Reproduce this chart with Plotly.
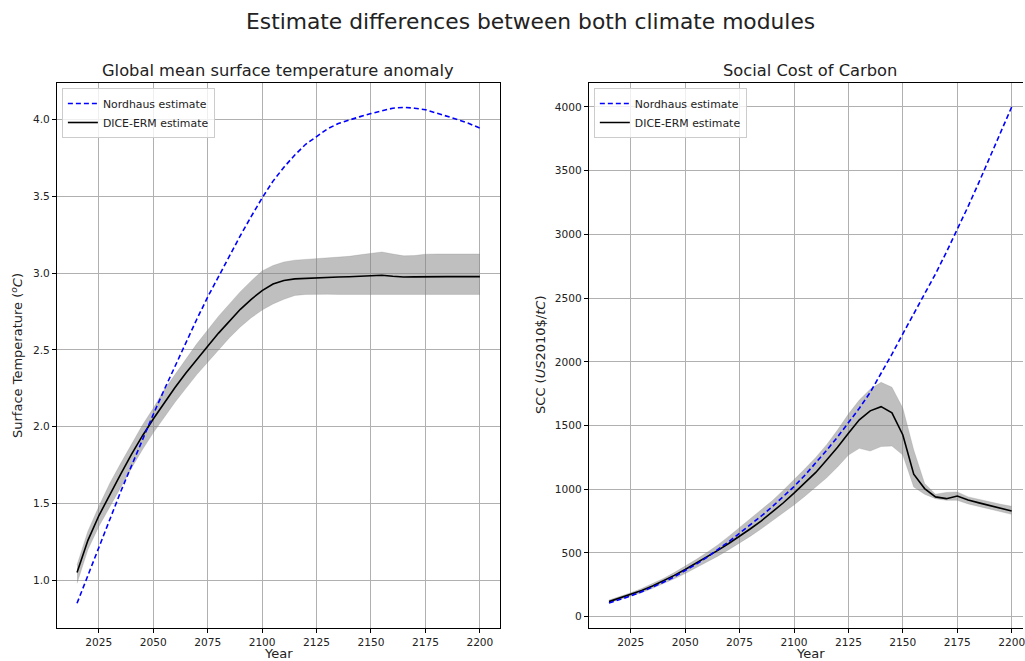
import plotly.graph_objects as go

# Time axis (model periods, 5-year steps)
years = list(range(2015, 2201, 5))

# Global mean surface temperature anomaly (degC)
temp_nordhaus = [0.85, 1.033, 1.215, 1.395, 1.575, 1.745, 1.915, 2.08,
                 2.24, 2.395, 2.55, 2.70, 2.845, 2.98, 3.12, 3.245, 3.37, 3.49,
                 3.60, 3.69, 3.77, 3.84, 3.89, 3.94, 3.975, 4.0, 4.02, 4.04,
                 4.06, 4.075, 4.08, 4.075, 4.065,
                 4.045, 4.025, 4.0, 3.975, 3.945]
temp_erm = [1.05, 1.26, 1.42, 1.56, 1.69, 1.82, 1.94, 2.05,
            2.155, 2.255, 2.35, 2.44, 2.525, 2.61, 2.69, 2.765, 2.83, 2.887,
            2.93, 2.953, 2.963, 2.967, 2.970, 2.972, 2.975, 2.977, 2.980, 2.984,
            2.987, 2.980, 2.975, 2.976, 2.978,
            2.978, 2.978, 2.978, 2.978, 2.978]
temp_erm_upper = [1.10, 1.32, 1.48, 1.63, 1.76, 1.89, 2.01, 2.12,
                  2.24, 2.34, 2.44, 2.54, 2.63, 2.72, 2.80, 2.88, 2.95, 3.015,
                  3.05, 3.073, 3.085, 3.09, 3.094, 3.10, 3.105, 3.11, 3.12, 3.13,
                  3.138, 3.125, 3.113, 3.115, 3.124,
                  3.125, 3.125, 3.125, 3.125, 3.125]
temp_erm_lower = [0.98, 1.20, 1.35, 1.48, 1.61, 1.73, 1.85, 1.96,
                  2.06, 2.16, 2.25, 2.34, 2.42, 2.50, 2.58, 2.65, 2.71, 2.76,
                  2.80, 2.83, 2.855, 2.862, 2.864, 2.863, 2.862, 2.862, 2.862, 2.862,
                  2.862, 2.862, 2.862, 2.862, 2.862,
                  2.862, 2.862, 2.862, 2.862, 2.862]

# Social cost of carbon (US2010$/tC)
scc_nordhaus = [107, 133, 162, 195, 231, 270, 313, 360,
                411, 466, 525, 588, 655, 721, 790, 863, 940, 1021,
                1110, 1205, 1305, 1410, 1520, 1635, 1760, 1905, 2060, 2220,
                2375, 2530, 2690, 2860, 3035,
                3220, 3410, 3605, 3800, 4000]
scc_erm = [118, 146, 173, 205, 240, 281, 324, 370,
           418, 468, 520, 574, 629, 690, 752, 820, 892, 969,
           1050, 1132, 1230, 1330, 1440, 1545, 1615, 1648, 1600, 1426,
           1118, 1005, 940, 926, 947,
           915, 893, 870, 850, 829]
scc_erm_upper = [130, 157, 187, 221, 258, 300, 346, 395,
                 448, 504, 563, 630, 700, 765, 835, 910, 990, 1073,
                 1160, 1250, 1350, 1465, 1590, 1700, 1785, 1839, 1800, 1636,
                 1308, 1045, 961, 975, 979,
                 940, 920, 900, 882, 866]
scc_erm_lower = [108, 133, 158, 188, 222, 258, 297, 338,
                 382, 428, 475, 525, 576, 632, 690, 750, 812, 877,
                 945, 1015, 1090, 1175, 1268, 1321, 1300, 1335, 1339, 1268,
                 1018, 961, 926, 913, 913,
                 885, 864, 843, 823, 803]

year_ticks = [2025, 2050, 2075, 2100, 2125, 2150, 2175, 2200]
temp_ticks = [1.0, 1.5, 2.0, 2.5, 3.0, 3.5, 4.0]
scc_ticks = [0, 500, 1000, 1500, 2000, 2500, 3000, 3500, 4000]

FONT = "DejaVu Sans"
W, H = 1025, 661
BAND = "rgba(128,128,128,0.5)"


def px(x):
    return x / W


def py(y):
    return 1 - y / H


fig = go.Figure()


def add_panel(xa, ya, leg, nordhaus, erm, lower, upper):
    fig.add_trace(go.Scatter(x=years, y=lower, mode="lines",
                             line=dict(width=0.6, color="rgba(128,128,128,0.4)"),
                             showlegend=False, hoverinfo="skip",
                             xaxis=xa, yaxis=ya))
    fig.add_trace(go.Scatter(x=years, y=upper, mode="lines",
                             line=dict(width=0.6, color="rgba(128,128,128,0.4)"),
                             fill="tonexty", fillcolor=BAND,
                             showlegend=False, hoverinfo="skip",
                             xaxis=xa, yaxis=ya))
    fig.add_trace(go.Scatter(x=years, y=erm, mode="lines",
                             name="DICE-ERM estimate",
                             line=dict(color="black", width=1.6),
                             legend=leg, legendrank=2,
                             xaxis=xa, yaxis=ya))
    fig.add_trace(go.Scatter(x=years, y=nordhaus, mode="lines",
                             name="Nordhaus estimate",
                             line=dict(color="blue", width=1.6, dash="5px,3px"),
                             legend=leg, legendrank=1,
                             xaxis=xa, yaxis=ya))


add_panel("x", "y", "legend", temp_nordhaus, temp_erm, temp_erm_lower, temp_erm_upper)
add_panel("x2", "y2", "legend2", scc_nordhaus, scc_erm, scc_erm_lower, scc_erm_upper)

axis_common = dict(
    showgrid=True, gridcolor="#b0b0b0", gridwidth=0.8,
    showline=True, linecolor="black", linewidth=1,
    ticks="outside", ticklen=4, tickwidth=1, tickcolor="black",
    zeroline=False, tickfont=dict(family=FONT, size=10.6, color="#222"),
    ticklabeloverflow="allow",
)

y_dom = [py(628), py(83)]

fig.update_layout(
    width=W, height=H,
    margin=dict(l=0, r=0, t=0, b=0),
    paper_bgcolor="white", plot_bgcolor="white",
    font=dict(family=FONT, color="#222"),
    xaxis=dict(domain=[px(57), px(501)], range=[2005.75, 2209.25],
               tickvals=year_ticks, anchor="y", mirror=True, **axis_common),
    yaxis=dict(domain=y_dom, range=[0.689, 4.239], tickvals=temp_ticks,
               ticktext=[f"{v:.1f}" for v in temp_ticks], anchor="x",
               mirror=True, **axis_common),
    xaxis2=dict(domain=[px(590), 1.0], range=[2005.75, 2205.2],
                tickvals=year_ticks, anchor="y2", mirror=True, **axis_common),
    yaxis2=dict(domain=y_dom, range=[-89, 4188], tickvals=scc_ticks,
                anchor="x2", mirror=False, **axis_common),
    legend=dict(x=px(62), y=py(88), xanchor="left", yanchor="top",
                bgcolor="rgba(255,255,255,0.8)", bordercolor="#cccccc",
                borderwidth=1, font=dict(family=FONT, size=10.9, color="#222"),
                traceorder="normal"),
    legend2=dict(x=px(595), y=py(88), xanchor="left", yanchor="top",
                 bgcolor="rgba(255,255,255,0.8)", bordercolor="#cccccc",
                 borderwidth=1, font=dict(family=FONT, size=10.9, color="#222"),
                 traceorder="normal"),
    showlegend=True,
)

annotations = [
    dict(text="Estimate differences between both climate modules",
         x=px(532), y=py(22), font=dict(size=21.8)),
    dict(text="Global mean surface temperature anomaly",
         x=px(279), y=py(70), font=dict(size=16.3)),
    dict(text="Social Cost of Carbon", x=px(812), y=py(70), font=dict(size=16.3)),
    dict(text="Year", x=px(279), y=py(653), font=dict(size=13)),
    dict(text="Year", x=px(812), y=py(653), font=dict(size=13)),
    dict(text="Surface Temperature (<i><sup>o</sup>C</i>)", x=px(17), y=py(355),
         textangle=-90, font=dict(size=13)),
    dict(text="SCC (<i>US</i>2010$/<i>tC</i>)", x=px(541), y=py(355),
         textangle=-90, font=dict(size=13)),
]
for a in annotations:
    a.update(xref="paper", yref="paper", showarrow=False,
             xanchor="center", yanchor="middle")
    a["font"].update(family=FONT, color="#222")
fig.update_layout(annotations=annotations)

fig.write_html("out.html")
